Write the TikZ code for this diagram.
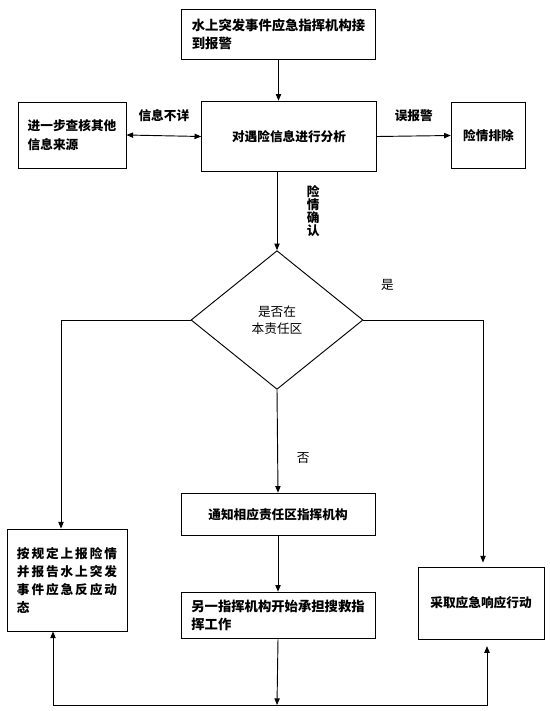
\documentclass[tikz,border=0pt]{standalone}
\usepackage{fontspec}
\setmainfont{Noto Sans CJK SC}
\usetikzlibrary{arrows.meta, shapes.geometric}

\begin{document}
\begin{tikzpicture}[x=0.75pt, y=-0.75pt,
    >={Triangle[length=5pt,width=4pt]},
    line width=0.7pt,
    every node/.style={font=\fontsize{9.5}{13.5}\selectfont\bfseries},
    box/.style={draw, align=left, inner sep=0pt},
    lbl/.style={inner sep=0pt},
    plain/.style={font=\fontsize{9.5}{13}\selectfont}]
    \useasboundingbox (0,0) rectangle (550,711);
    \node[box, minimum width=146pt, minimum height=37.5pt, font=\fontsize{10}{13.5}\selectfont\bfseries] (recv) at (278.5,34) {水上突发事件应急指挥机构接\\到报警};
    \node[box, minimum width=131pt, minimum height=53pt] (analyse) at (289,136.5) {对遇险信息进行分析};
    \node[box, minimum width=81pt, minimum height=49.5pt, font=\fontsize{9.5}{14}\selectfont\bfseries] (check) at (72,135) {进一步查核其他\\信息来源};
    \node[box, minimum width=56pt, minimum height=49pt] (clear) at (488.5,135.5) {险情排除};
    \node[draw, diamond, inner sep=0pt, minimum width=129pt, minimum height=104pt, align=center, plain] (dec) at (277,320) {是否在\\本责任区};
    \node[box, minimum width=145.5pt, minimum height=32pt] (notify) at (278,514.5) {通知相应责任区指挥机构};
    \node[box, minimum width=145.5pt, minimum height=35pt, font=\fontsize{10}{13.5}\selectfont\bfseries] (takeover) at (278,615.5) {另一指挥机构开始承担搜救指\\挥工作};
    \node[box, minimum width=90pt, minimum height=76.5pt, font=\fontsize{9.5}{13.5}\selectfont\bfseries\addfontfeature{LetterSpace=15}] (report) at (67,580) {按规定上报险情\\并报告水上突发\\事件应急反应动\\态};
    \node[box, minimum width=94.5pt, minimum height=54pt] (act) at (481,603) {采取应急响应行动};
    \coordinate (join) at (277,705);

    \draw[->] (recv.south) -- (recv.south |- analyse.north);
    \draw[<->] (check.east) to node[lbl, above=10pt] {信息不详} (analyse.west);
    \draw[->] (analyse.east) to node[lbl, above=10pt] {误报警} (clear.west);
    \draw[->] (analyse.south -| dec.north) to node[lbl, right=22pt, align=center, font=\fontsize{9.5}{9.8}\selectfont\bfseries] {险\\情\\确\\认} (dec.north);
    \draw[->] (dec.west) -| ([xshift=-4.5pt]report.north);
    \draw[->, shorten >=3pt] (dec.east) -| node[lbl, plain, pos=0.1, above=22pt] {是} ([xshift=1.5pt]act.north);
    \draw[->] (dec.south) to node[lbl, plain, pos=0.66, right=14pt] {否} (notify.north);
    \draw[->] (notify.south) -- (takeover.north);
    \draw[->] (takeover.south) -- (join);
    \draw[->] (join) -| ([xshift=-10.5pt]report.south);
    \draw[->, shorten >=5pt] (join) -| ([xshift=4.5pt]act.south);
\end{tikzpicture}
\end{document}
